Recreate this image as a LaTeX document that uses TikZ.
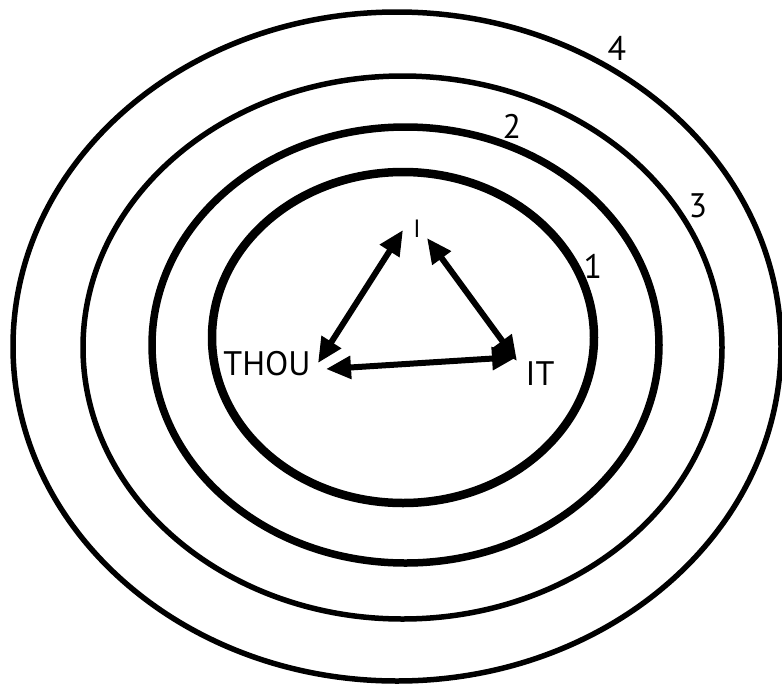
\documentclass[tikz,border=0pt]{standalone}
\usepackage{fontspec}
\setmainfont{PT Sans}
\usetikzlibrary{arrows.meta}
\tikzset{
  ring/.style={draw=black},
  lbl/.style={inner sep=0pt, anchor=base, font=\fontsize{34}{38}\selectfont},
  small/.style={inner sep=0pt, anchor=base, font=\fontsize{25}{29}\selectfont},
  link/.style={line width=6pt, {Triangle[length=25pt,width=22pt]}-{Triangle[length=25pt,width=22pt]}}
}
\begin{document}
\begin{tikzpicture}[x=1pt,y=-1pt]
\useasboundingbox (0,0) rectangle (782,686);
% rings
\draw[ring, line width=5.5pt] (397,346.5) ellipse [x radius=384pt, y radius=334.5pt];
\draw[ring, line width=5.5pt] (402.5,347.5) ellipse [x radius=319.5pt, y radius=271.5pt];
\draw[ring, line width=7.5pt] (405.5,345) ellipse [x radius=253.5pt, y radius=218pt];
\draw[ring, line width=8.5pt] (403,337.5) ellipse [x radius=191pt, y radius=165.5pt];
% ring numbers
\node[lbl] (n4) at (617,60) {4};
\node[lbl] (n3) at (698,217) {3};
\node[lbl] (n2) at (512,138) {2};
\node[lbl] (n1) at (593,278) {1};
% words
\node[small] (I) at (417,237) {I};
\node[lbl] (THOU) at (267,375) {THOU};
\node[lbl] (IT) at (540,385) {IT};
% arrow ends
\coordinate (IL) at (403,230);
\coordinate (TU) at (318,363);
\coordinate (IR) at (427,238);
\coordinate (TR) at (517,361);
\coordinate (TH) at (326,369);
\coordinate (ITL) at (517,357);
\draw[link] (IL) -- (TU);
\draw[link] (IR) -- (TR);
\draw[link] (TH) -- (ITL);
\end{tikzpicture}
\end{document}
